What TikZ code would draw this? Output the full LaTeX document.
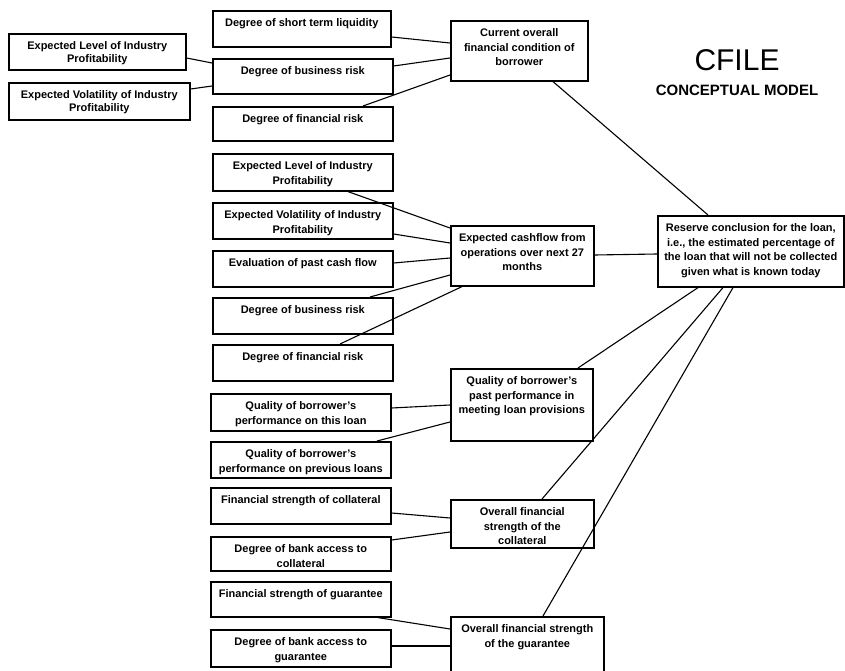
\documentclass[tikz,border=0pt]{standalone}
\usepackage{fontspec}
\setmainfont{Liberation Sans}
\usepackage{tikz}

% text of a box: width, height, lines (set at the top of the box)
\newcommand{\ftext}[3]{\parbox[c][#2pt][t]{#1pt}{\centering\rule{0pt}{16pt}#3}}

\begin{document}
\begin{tikzpicture}[x=1pt,y=-1pt,
    factor node/.style={draw,line width=1.6pt,anchor=north west,inner sep=0pt,
      font=\bfseries\fontsize{11}{14.5}\selectfont},
    link/.style={line width=1.1pt}]

  \clip (0,0) rectangle (845,671);

  % title
  \node (title) at (737,60) {\fontsize{30}{30}\selectfont CFILE};
  \node[font=\bfseries\fontsize{15}{15}\selectfont] (subtitle) at (737,90) {CONCEPTUAL MODEL};

  % inputs of the inputs
  \node[factor node] (L1) at (8,33) {\ftext{177}{36}{Expected Level of Industry\\[-2pt]Profitability}};
  \node[factor node] (L2) at (8,82) {\ftext{181}{37}{Expected Volatility of Industry\\[-2pt]Profitability}};

  % inputs
  \node[factor node] (A1) at (212,10) {\ftext{178}{36}{Degree of short term liquidity}};
  \node[factor node] (A2) at (212,58) {\ftext{180}{35}{Degree of business risk}};
  \node[factor node] (A3) at (212,106) {\ftext{180}{34}{Degree of financial risk}};
  \node[factor node] (B1) at (212,153) {\ftext{180}{37}{Expected Level of Industry\\Profitability}};
  \node[factor node] (B2) at (212,202) {\ftext{180}{36}{Expected Volatility of Industry\\Profitability}};
  \node[factor node] (B3) at (212,250) {\ftext{180}{36}{Evaluation of past cash flow}};
  \node[factor node] (B4) at (212,297) {\ftext{180}{36}{Degree of business risk}};
  \node[factor node] (B5) at (212,344) {\ftext{180}{36}{Degree of financial risk}};
  \node[factor node] (C1) at (210,393) {\ftext{180}{37}{Quality of borrower's\\performance on this loan}};
  \node[factor node] (C2) at (210,441) {\ftext{180}{36}{Quality of borrower's\\performance on previous loans}};
  \node[factor node] (D1) at (210,487) {\ftext{180}{36}{Financial strength of collateral}};
  \node[factor node] (D2) at (210,536) {\ftext{180}{34}{Degree of bank access to\\collateral}};
  \node[factor node] (E1) at (210,581) {\ftext{180}{35}{Financial strength of guarantee}};
  \node[factor node] (E2) at (210,629) {\ftext{180}{37}{Degree of bank access to\\guarantee}};

  % intermediate factors
  \node[factor node] (M1) at (450,20) {\ftext{137}{60}{Current overall\\financial condition of\\borrower}};
  \node[factor node] (M2) at (450,225) {\ftext{143}{60}{Expected cashflow from\\operations over next 27\\months}};
  \node[factor node] (M3) at (450,368) {\ftext{142}{72}{Quality of borrower's\\past performance in\\meeting loan provisions}};
  \node[factor node] (M4) at (450,499) {\ftext{143}{48}{Overall financial\\strength of the\\collateral}};
  \node[factor node] (M5) at (450,616) {\ftext{153}{64}{Overall financial strength\\of the guarantee}};

  % conclusion
  \node[factor node] (R) at (657,215) {\ftext{186}{71}{Reserve conclusion for the loan,\\i.e., the estimated percentage of\\the loan that will not be collected\\given what is known today}};

  \path[link]
    (L1.east |- 0,58) edge (A2.west |- 0,63)
    (L2.east |- 0,89) edge (A2.west |- 0,86)
    (A1.east |- 0,37) edge (M1.west |- 0,43)
    (A2.east |- 0,66) edge (M1.west |- 0,58)
    (A3.north -| 363,0) edge (M1.west |- 0,75)
    (M1.south -| 553,0) edge (R.north -| 708,0)
    (B1.south -| 348,0) edge (M2.west |- 0,228)
    (B2.east |- 0,234) edge (M2.west |- 0,243)
    (B3.east |- 0,263) edge (M2.west |- 0,258)
    (B4.north -| 370,0) edge (M2.west |- 0,275)
    (B5.north -| 340,0) edge (M2.south -| 462,0)
    (M2.east |- 0,255) edge (R.west |- 0,254)
    (C1.east |- 0,408) edge (M3.west |- 0,405)
    (C2.north -| 377,0) edge (M3.west |- 0,422)
    (M3.north -| 578,0) edge (R.south -| 698,0)
    (D1.east |- 0,513) edge (M4.west |- 0,518)
    (D2.east |- 0,540) edge (M4.west |- 0,532)
    (M4.north -| 542,0) edge (R.south -| 723,0)
    (E1.south -| 378,0) edge (M5.west |- 0,629)
    (E2.east |- 0,646) edge (M5.west |- 0,646)
    (M5.north -| 543,0) edge (R.south -| 733,0);
\end{tikzpicture}
\end{document}
